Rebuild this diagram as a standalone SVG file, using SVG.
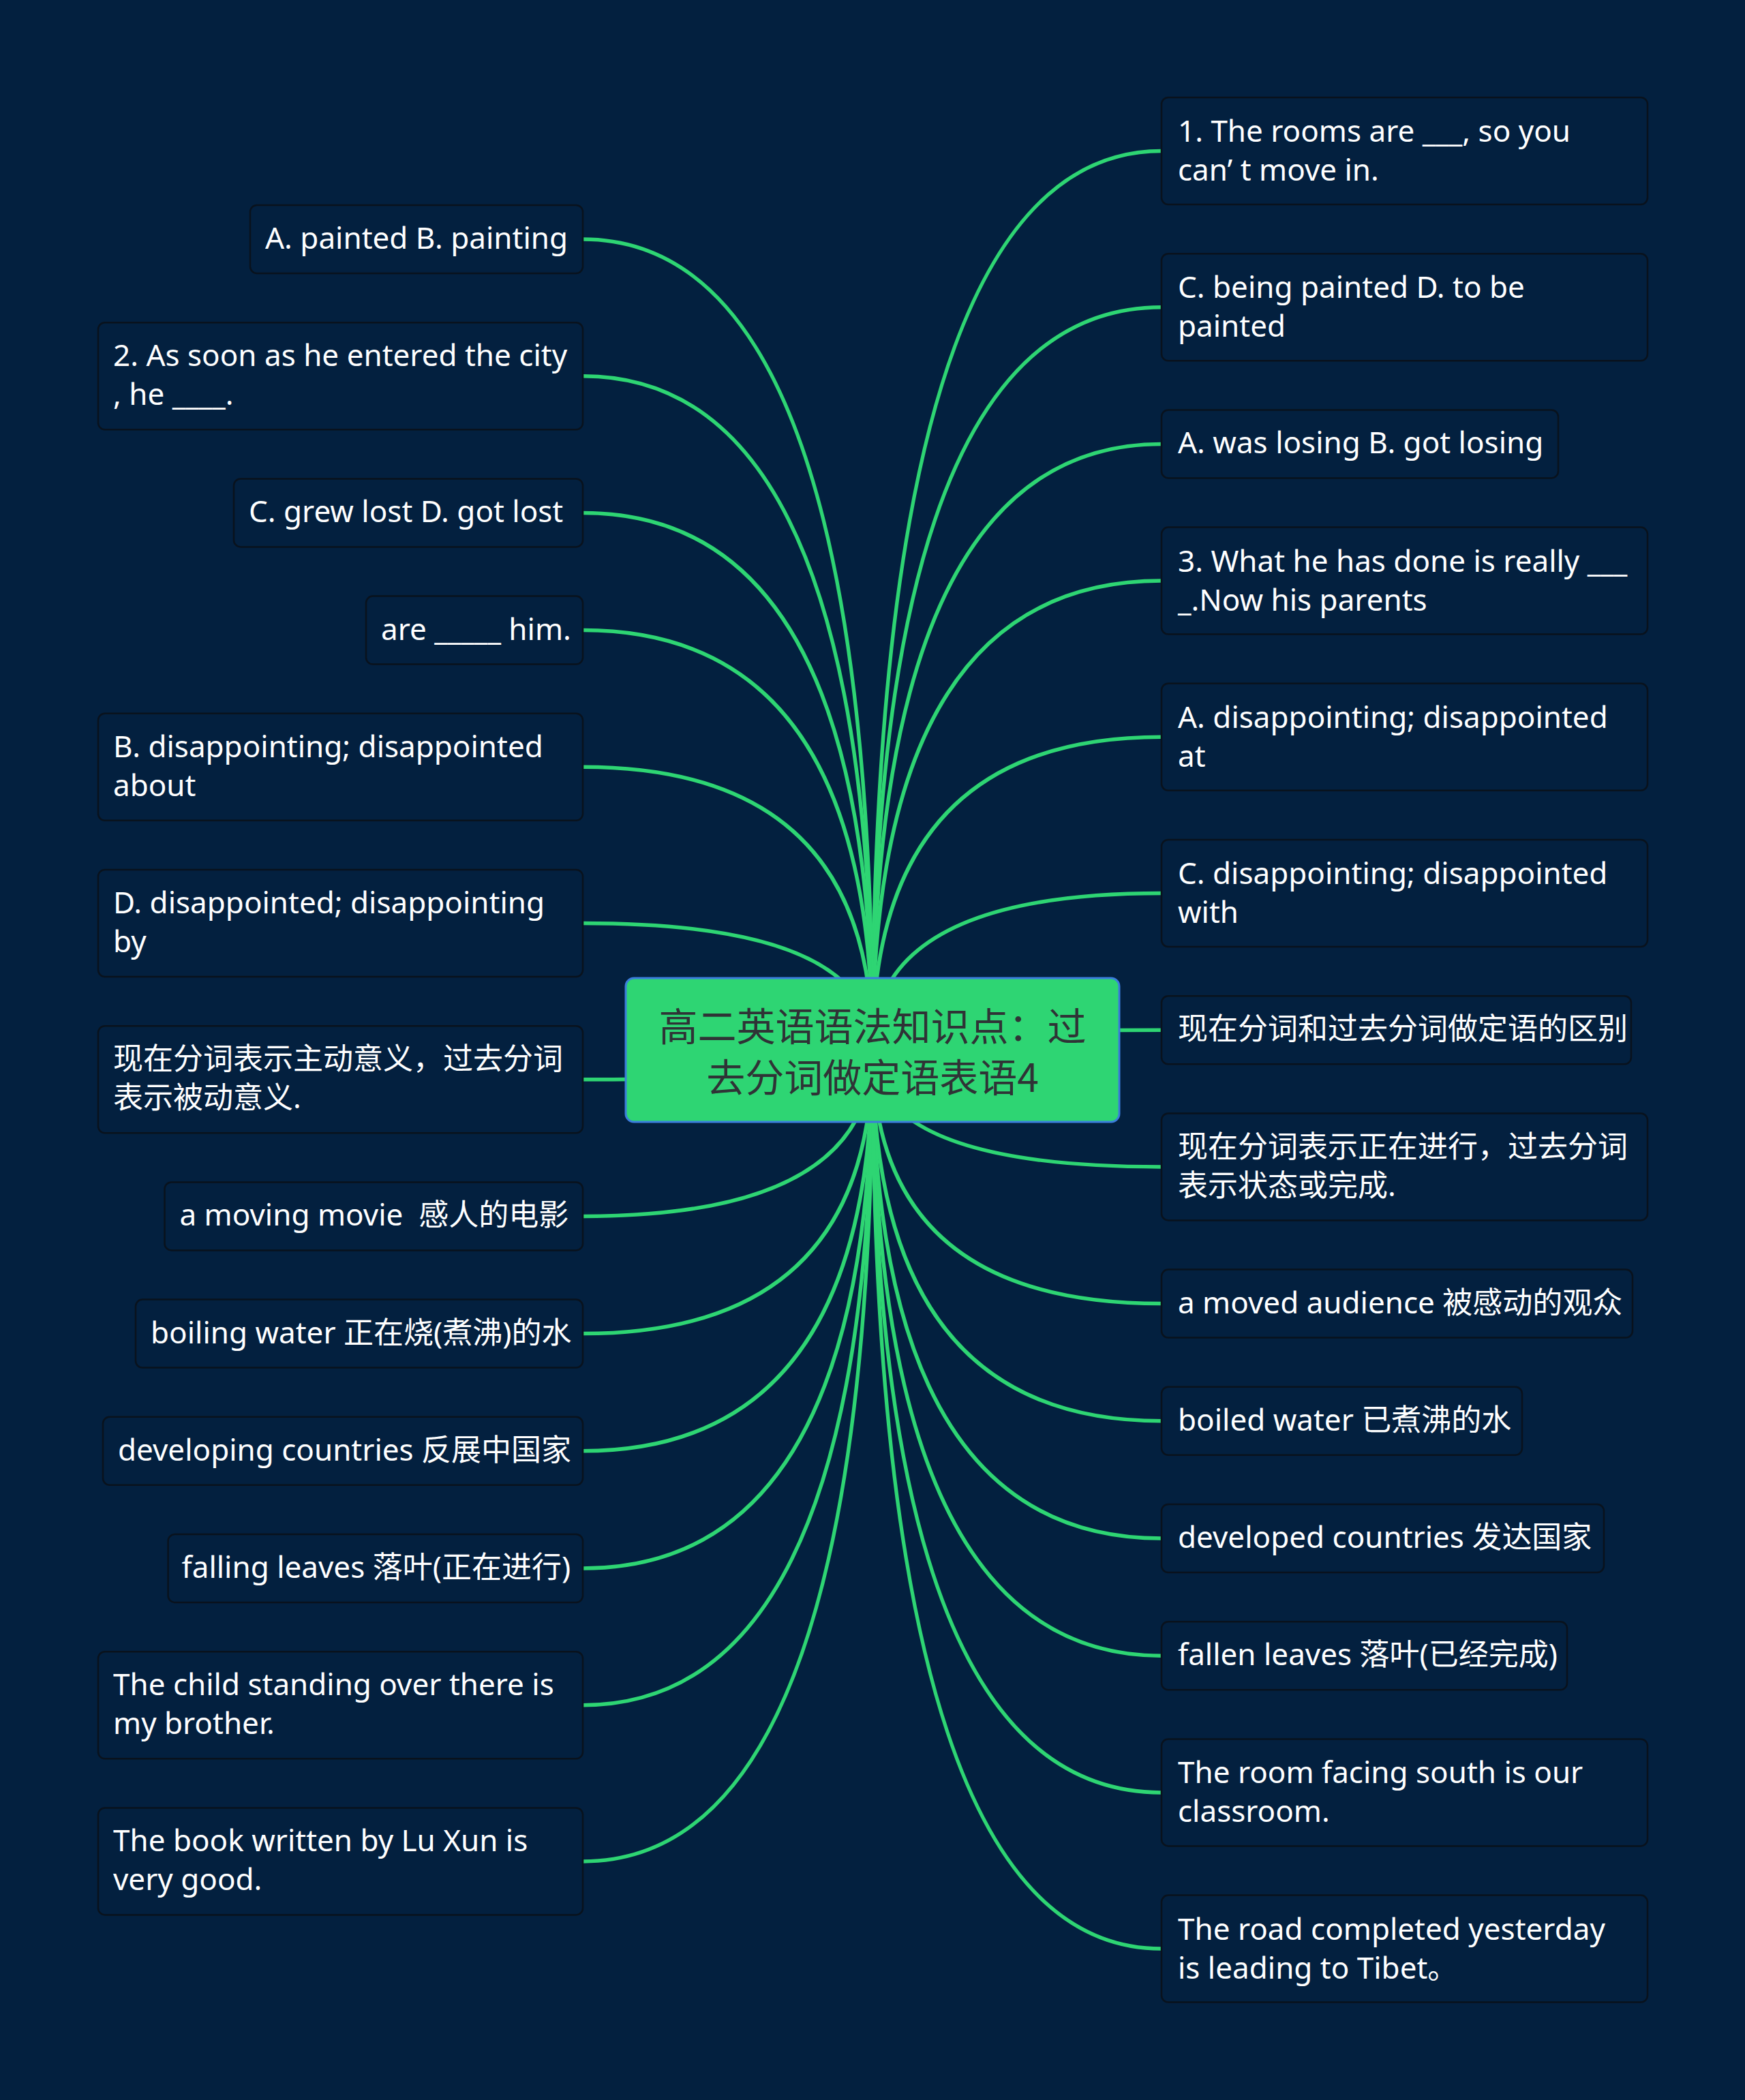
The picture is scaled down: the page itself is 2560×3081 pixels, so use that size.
<svg xmlns="http://www.w3.org/2000/svg" width="2560" height="3081" viewBox="0 0 2560 3081">
<style>
.bg{fill:#03203f}
.box{fill:#03203f;stroke:#09121d;stroke-width:2.5}
.t{font-family:"Noto Sans","Noto Sans CJK SC",sans-serif;font-size:44px;fill:#ffffff;white-space:pre}
.link{fill:none;stroke:#2ed573;stroke-width:5.5;stroke-linecap:round}
.root{fill:#2ed573;stroke:#3b7ddb;stroke-width:3}
.rt{font-family:"Noto Sans CJK SC","Noto Sans",sans-serif;font-size:57px;fill:#2f3336;text-anchor:middle}
</style>
<rect class="bg" x="0" y="0" width="2560" height="3081"/>
<g id="connectors">
<path class="link" d="M855,351 Q1280,351 1280,1540"/>
<path class="link" d="M855,551.7 Q1280,551.7 1280,1540"/>
<path class="link" d="M855,752.4 Q1280,752.4 1280,1540"/>
<path class="link" d="M855,924.6 Q1280,924.6 1280,1540"/>
<path class="link" d="M855,1125.3 Q1280,1125.3 1280,1540"/>
<path class="link" d="M855,1354.5 Q1280,1354.5 1280,1540"/>
<path class="link" d="M855,1583.7 Q1280,1583.7 1280,1540"/>
<path class="link" d="M855,1784.4 Q1280,1784.4 1280,1540"/>
<path class="link" d="M855,1956.6 Q1280,1956.6 1280,1540"/>
<path class="link" d="M855,2128.8 Q1280,2128.8 1280,1540"/>
<path class="link" d="M855,2301 Q1280,2301 1280,1540"/>
<path class="link" d="M855,2501.7 Q1280,2501.7 1280,1540"/>
<path class="link" d="M855,2730.9 Q1280,2730.9 1280,1540"/>
<path class="link" d="M1704,221.5 Q1280,221.5 1280,1540"/>
<path class="link" d="M1704,450.7 Q1280,450.7 1280,1540"/>
<path class="link" d="M1704,651.4 Q1280,651.4 1280,1540"/>
<path class="link" d="M1704,852.1 Q1280,852.1 1280,1540"/>
<path class="link" d="M1704,1081.3 Q1280,1081.3 1280,1540"/>
<path class="link" d="M1704,1310.5 Q1280,1310.5 1280,1540"/>
<path class="link" d="M1704,1511.2 Q1280,1511.2 1280,1540"/>
<path class="link" d="M1704,1711.9 Q1280,1711.9 1280,1540"/>
<path class="link" d="M1704,1912.6 Q1280,1912.6 1280,1540"/>
<path class="link" d="M1704,2084.8 Q1280,2084.8 1280,1540"/>
<path class="link" d="M1704,2257 Q1280,2257 1280,1540"/>
<path class="link" d="M1704,2429.2 Q1280,2429.2 1280,1540"/>
<path class="link" d="M1704,2629.9 Q1280,2629.9 1280,1540"/>
<path class="link" d="M1704,2859.1 Q1280,2859.1 1280,1540"/>
</g>
<g id="root">
<rect class="root" x="918" y="1435" width="724" height="211" rx="12"/>
<text class="rt" x="1280" y="1527">高二英语语法知识点：过</text>
<text class="rt" x="1280" y="1602">去分词做定语表语4</text>
</g>
<g id="L1"><rect class="box" x="367" y="301" width="488" height="100" rx="10"/><text class="t" x="389" y="365">A. painted B. painting</text></g>
<g id="L2"><rect class="box" x="144" y="473.2" width="711" height="157" rx="10"/><text class="t" x="166" y="537.2">2. As soon as he entered the city</text><text class="t" x="166" y="594.2">, he ____.</text></g>
<g id="L3"><rect class="box" x="343" y="702.4" width="512" height="100" rx="10"/><text class="t" x="365" y="766.4">C. grew lost D. got lost</text></g>
<g id="L4"><rect class="box" x="537" y="874.6" width="318" height="100" rx="10"/><text class="t" x="559" y="938.6">are _____ him.</text></g>
<g id="L5"><rect class="box" x="144" y="1046.8" width="711" height="157" rx="10"/><text class="t" x="166" y="1110.8">B. disappointing; disappointed</text><text class="t" x="166" y="1167.8">about</text></g>
<g id="L6"><rect class="box" x="144" y="1276" width="711" height="157" rx="10"/><text class="t" x="166" y="1340">D. disappointed; disappointing</text><text class="t" x="166" y="1397">by</text></g>
<g id="L7"><rect class="box" x="144" y="1505.2" width="711" height="157" rx="10"/><text class="t" x="166" y="1569.2">现在分词表示主动意义，过去分词</text><text class="t" x="166" y="1626.2">表示被动意义.</text></g>
<g id="L8"><rect class="box" x="241.5" y="1734.4" width="613.5" height="100" rx="10"/><text class="t" x="263.5" y="1798.4">a moving movie  感人的电影</text></g>
<g id="L9"><rect class="box" x="199" y="1906.6" width="656" height="100" rx="10"/><text class="t" x="221" y="1970.6">boiling water 正在烧(煮沸)的水</text></g>
<g id="L10"><rect class="box" x="151" y="2078.8" width="704" height="100" rx="10"/><text class="t" x="173" y="2142.8">developing countries 反展中国家</text></g>
<g id="L11"><rect class="box" x="246.6" y="2251" width="608.4" height="100" rx="10"/><text class="t" x="266.6" y="2315">falling leaves 落叶(正在进行)</text></g>
<g id="L12"><rect class="box" x="144" y="2423.2" width="711" height="157" rx="10"/><text class="t" x="166" y="2487.2">The child standing over there is</text><text class="t" x="166" y="2544.2">my brother.</text></g>
<g id="L13"><rect class="box" x="144" y="2652.4" width="711" height="157" rx="10"/><text class="t" x="166" y="2716.4">The book written by Lu Xun is</text><text class="t" x="166" y="2773.4">very good.</text></g>
<g id="R1"><rect class="box" x="1704" y="143" width="713" height="157" rx="10"/><text class="t" x="1728" y="208">1. The rooms are ___, so you</text><text class="t" x="1728" y="265">can’ t move in.</text></g>
<g id="R2"><rect class="box" x="1704" y="372.2" width="713" height="157" rx="10"/><text class="t" x="1728" y="437.2">C. being painted D. to be</text><text class="t" x="1728" y="494.2">painted</text></g>
<g id="R3"><rect class="box" x="1704" y="601.4" width="582" height="100" rx="10"/><text class="t" x="1728" y="665.4">A. was losing B. got losing</text></g>
<g id="R4"><rect class="box" x="1704" y="773.6" width="713" height="157" rx="10"/><text class="t" x="1728" y="838.6">3. What he has done is really ___</text><text class="t" x="1728" y="895.6">_.Now his parents</text></g>
<g id="R5"><rect class="box" x="1704" y="1002.8" width="713" height="157" rx="10"/><text class="t" x="1728" y="1067.8">A. disappointing; disappointed</text><text class="t" x="1728" y="1124.8">at</text></g>
<g id="R6"><rect class="box" x="1704" y="1232" width="713" height="157" rx="10"/><text class="t" x="1728" y="1297">C. disappointing; disappointed</text><text class="t" x="1728" y="1354">with</text></g>
<g id="R7"><rect class="box" x="1704" y="1461.2" width="689" height="100" rx="10"/><text class="t" x="1728" y="1525.2">现在分词和过去分词做定语的区别</text></g>
<g id="R8"><rect class="box" x="1704" y="1633.4" width="713" height="157" rx="10"/><text class="t" x="1728" y="1698.4">现在分词表示正在进行，过去分词</text><text class="t" x="1728" y="1755.4">表示状态或完成.</text></g>
<g id="R9"><rect class="box" x="1704" y="1862.6" width="691" height="100" rx="10"/><text class="t" x="1728" y="1926.6">a moved audience 被感动的观众</text></g>
<g id="R10"><rect class="box" x="1704" y="2034.8" width="529" height="100" rx="10"/><text class="t" x="1728" y="2098.8">boiled water 已煮沸的水</text></g>
<g id="R11"><rect class="box" x="1704" y="2207" width="649" height="100" rx="10"/><text class="t" x="1728" y="2271">developed countries 发达国家</text></g>
<g id="R12"><rect class="box" x="1704" y="2379.2" width="595" height="100" rx="10"/><text class="t" x="1728" y="2443.2">fallen leaves 落叶(已经完成)</text></g>
<g id="R13"><rect class="box" x="1704" y="2551.4" width="713" height="157" rx="10"/><text class="t" x="1728" y="2616.4">The room facing south is our</text><text class="t" x="1728" y="2673.4">classroom.</text></g>
<g id="R14"><rect class="box" x="1704" y="2780.6" width="713" height="157" rx="10"/><text class="t" x="1728" y="2845.6">The road completed yesterday</text><text class="t" x="1728" y="2902.6">is leading to Tibet。</text></g>
</svg>
